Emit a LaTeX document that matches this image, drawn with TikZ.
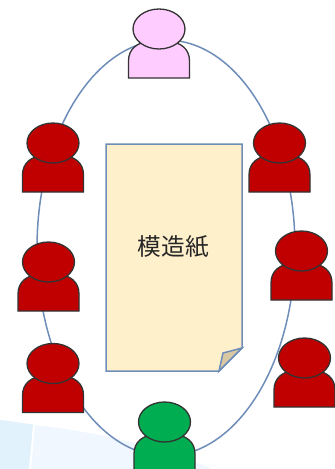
\documentclass[tikz,border=0pt]{standalone}
\usepackage{fontspec}
\newfontfamily\cjk{Noto Sans CJK JP}
\definecolor{edgeblue}{HTML}{6F8DB9}
\definecolor{paper}{HTML}{FFF0CC}
\definecolor{fold}{HTML}{D9C9A3}
\definecolor{redp}{HTML}{C00000}
\definecolor{pinkp}{HTML}{FFCCFF}
\definecolor{greenp}{HTML}{00AD50}
\definecolor{washa}{HTML}{E1F2FD}
\definecolor{washb}{HTML}{F0F7FE}
\newcommand{\person}[4]{% x of centre, top y of head, fill, name
  \begin{scope}[shift={(#1,#2)}]
    \draw[personline,fill=#3] (-30.5,69) -- (-30.5,52) .. controls (-30.5,40) and (-22,33) .. (-8,32)
      -- (8,32) .. controls (22,33) and (30.5,40) .. (30.5,52) -- (30.5,69) -- cycle;
    \node[personline,fill=#3,ellipse,minimum width=52,minimum height=40,inner sep=0pt] (#4) at (0,20) {};
  \end{scope}}
\usetikzlibrary{shapes.geometric}
\tikzset{personline/.style={draw=black!80,line width=1.3pt},
  ring/.style={draw=edgeblue,line width=1.5pt},
  sheet/.style={draw=edgeblue,line width=1.5pt,fill=paper}}
\begin{document}
\begin{tikzpicture}[x=1pt,y=-1pt]
\useasboundingbox (0,0) rectangle (335,469);
\begin{scope}
\clip (0,0) rectangle (335,469);
\fill[washa] (0,420) .. controls (10,421) and (22,423) .. (33,424.5) -- (29,469) -- (0,469) -- cycle;
\fill[washb] (35,425) .. controls (80,430) and (150,442) .. (212,469) -- (31,469) -- cycle;
\end{scope}
\node[ring,ellipse,minimum width=258,minimum height=416,inner sep=0pt] (table) at (166,248) {};
\draw[sheet] (106,144) -- (242,144) -- (242,348) -- (219,371) -- (106,371) -- cycle;
\draw[sheet,fill=fold] (242,348) -- (223,353) -- (219,371) -- cycle;
\node[inner sep=0pt,text=black!85] (label) at (173.5,247) {\cjk\fontsize{23.7}{26}\selectfont 模造紙};
\person{159}{9}{pinkp}{p1}
\person{53}{123}{redp}{p2}
\person{279.5}{123}{redp}{p3}
\person{48.5}{242}{redp}{p4}
\person{301.5}{231}{redp}{p5}
\person{53}{343.5}{redp}{p6}
\person{304.5}{338}{redp}{p7}
\begin{scope}
\clip (0,0) rectangle (335,469);
\person{164.5}{402}{greenp}{p8}
\end{scope}
\end{tikzpicture}
\end{document}
